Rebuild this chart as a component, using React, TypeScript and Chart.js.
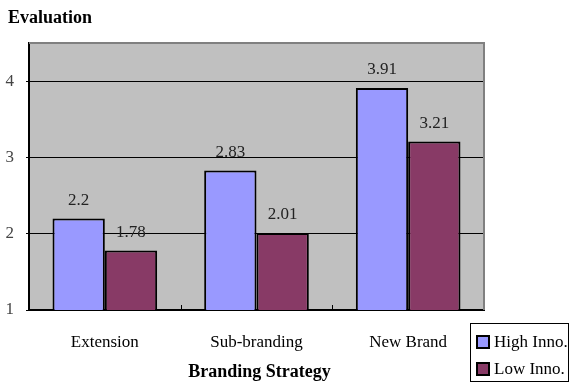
import React, { useEffect, useRef } from "react";
import { Chart, registerables } from "chart.js";

Chart.register(...registerables);

const categories = ["Extension", "Sub-branding", "New Brand"];
const highInno = [2.2, 2.83, 3.91];
const lowInno = [1.78, 2.01, 3.21];
const seriesNames = ["High Inno.", "Low Inno."];
const seriesColors = ["#9999FF", "#883A66"];
const yMin = 1;
const yMax = 4.5;
const chartTitle = "Evaluation";
const xTitle = "Branding Strategy";

const SERIF = "'Liberation Serif', 'Times New Roman', serif";

const extrasPlugin = {
  id: "extras",
  beforeDraw(chart: any) {
    const { ctx, chartArea: a } = chart;
    ctx.save();
    ctx.fillStyle = "#C0C0C0";
    ctx.fillRect(a.left, a.top, a.right - a.left, a.bottom - a.top);
    ctx.restore();
  },
  afterDatasetsDraw(chart: any) {
    const { ctx, chartArea: a } = chart;
    ctx.save();
    ctx.strokeStyle = "#808080";
    ctx.lineWidth = 2;
    ctx.beginPath();
    ctx.moveTo(a.left, a.top);
    ctx.lineTo(a.right, a.top);
    ctx.lineTo(a.right, a.bottom);
    ctx.stroke();
    const xs = chart.scales.x;
    ctx.strokeStyle = "#000";
    ctx.lineWidth = 1;
    for (let i = 0; i < categories.length - 1; i++) {
      const bx = Math.round((xs.getPixelForValue(i) + xs.getPixelForValue(i + 1)) / 2) + 0.5;
      ctx.beginPath();
      ctx.moveTo(bx, a.bottom);
      ctx.lineTo(bx, a.bottom - 5);
      ctx.stroke();
    }
    ctx.fillStyle = "#222";
    ctx.font = `17px ${SERIF}`;
    ctx.textAlign = "center";
    ctx.textBaseline = "middle";
    chart.data.datasets.forEach((ds: any, di: number) => {
      const meta = chart.getDatasetMeta(di);
      meta.data.forEach((bar: any, i: number) => {
        ctx.fillText(String(ds.data[i]), bar.x, bar.y - 18);
      });
    });
    ctx.fillStyle = "#000";
    ctx.font = `bold 18px ${SERIF}`;
    ctx.textAlign = "left";
    ctx.fillText(chartTitle, 8, 18);
    ctx.font = `bold 18px ${SERIF}`;
    ctx.textAlign = "center";
    ctx.fillText(xTitle, (a.left + a.right) / 2 + 3, 372);
    ctx.fillStyle = "#fff";
    ctx.fillRect(470.5, 323.5, 98, 58);
    ctx.strokeStyle = "#000";
    ctx.lineWidth = 1;
    ctx.strokeRect(470.5, 323.5, 98, 58);
    ctx.font = `17px ${SERIF}`;
    ctx.textAlign = "left";
    seriesNames.forEach((name, i) => {
      const cy = 342 + i * 27;
      ctx.fillStyle = seriesColors[i];
      ctx.fillRect(477, cy - 6, 12, 12);
      ctx.lineWidth = 2;
      ctx.strokeStyle = "#000";
      ctx.strokeRect(477, cy - 6, 12, 12);
      ctx.fillStyle = "#000";
      ctx.fillText(name, 494, cy + 1);
    });
    ctx.restore();
  },
};

export default function App() {
  const ref = useRef<HTMLCanvasElement | null>(null);
  useEffect(() => {
    document.body.style.margin = "0";
    const chart = new Chart(ref.current as HTMLCanvasElement, {
      type: "bar",
      data: {
        labels: categories,
        datasets: [
          {
            label: seriesNames[0],
            data: highInno,
            backgroundColor: seriesColors[0],
            borderColor: "#000",
            borderWidth: 2,
            barPercentage: 1,
            categoryPercentage: 0.69,
          },
          {
            label: seriesNames[1],
            data: lowInno,
            backgroundColor: seriesColors[1],
            borderColor: "#000",
            borderWidth: 2,
            barPercentage: 1,
            categoryPercentage: 0.69,
          },
        ],
      },
      options: {
        responsive: false,
        animation: false,
        layout: { padding: { top: 43, right: 86, left: 0, bottom: 0 } },
        plugins: { legend: { display: false }, tooltip: { enabled: false }, title: { display: false } },
        scales: {
          x: {
            afterFit: (s: any) => {
              s.height = 74;
            },
            grid: { display: false, drawTicks: false },
            border: { display: true, color: "#000", width: 2 },
            ticks: { color: "#000", font: { family: SERIF, size: 17 }, padding: 22, maxRotation: 0 },
          },
          y: {
            min: yMin,
            max: yMax,
            afterFit: (s: any) => {
              s.width = 29;
            },
            afterBuildTicks: (s: any) => {
              s.ticks = s.ticks.filter((t: any) => Number.isInteger(t.value));
            },
            grid: { color: "#000", lineWidth: 1, tickLength: 3, drawTicks: true },
            border: { display: true, color: "#000", width: 2 },
            ticks: { stepSize: 1, color: "#444", font: { family: SERIF, size: 17 }, padding: 12 },
          },
        },
      },
      plugins: [extrasPlugin],
    });
    return () => chart.destroy();
  }, []);
  return <canvas ref={ref} width={570} height={384} style={{ display: "block" }} />;
}
